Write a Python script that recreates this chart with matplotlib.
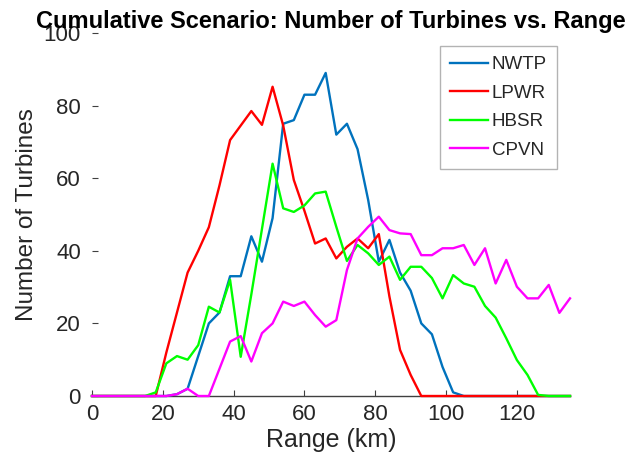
import numpy as np
import matplotlib
matplotlib.use("Agg")
from matplotlib import pyplot as plt

plt.rcParams['font.family'] = ['Liberation Sans', 'DejaVu Sans']

# range in km, one sample every 3 km
range_km = np.arange(0, 136, 3)

nwtp = [0, 0, 0, 0, 0, 0, 0, 0, 0.5, 2, 11, 20, 23, 33, 33, 44, 37, 49, 75, 76,
        83, 83, 89, 72, 75, 68, 54, 37, 43, 34, 29, 20, 17, 8, 1, 0, 0, 0, 0, 0,
        0, 0, 0, 0, 0, 0]
lpwr = [0, 0, 0, 0, 0, 0, 0, 12, 23, 34, 40, 46.5, 58, 70.5, 74.5, 78.5, 74.7, 85.2, 74.5, 59.5,
        51, 42, 43.4, 37.9, 41.1, 43.4, 40.7, 44.6, 27.4, 12.7, 5.8, 0, 0, 0, 0, 0, 0, 0, 0, 0,
        0, 0, 0, 0, 0, 0]
hbsr = [0, 0, 0, 0, 0, 0, 1, 9, 11, 10, 14, 24.6, 23, 32, 10.8, 28, 46, 64, 51.7, 50.7,
        52.5, 55.8, 56.3, 46.6, 37.2, 41.6, 39.3, 36.1, 38.4, 32, 35.6, 35.6, 32.5, 26.9, 33.3, 31, 30.1, 24.8, 21.6, 15.9,
        9.9, 5.8, 0.3, 0, 0, 0]
cpvn = [0, 0, 0, 0, 0, 0, 0, 0, 0.5, 2, 0, 0, 7.5, 15, 16.5, 9.5, 17.3, 20, 26, 24.8,
        26, 22.3, 19.1, 20.9, 34.7, 43.4, 46.6, 49.4, 45.7, 44.8, 44.6, 38.8, 38.8, 40.7, 40.7, 41.6, 36.1, 40.7, 31, 37.5,
        30.1, 26.9, 26.9, 30.6, 22.9, 26.9]

names = ['NWTP', 'LPWR', 'HBSR', 'CPVN']
colors = ['#0072BD', '#FF0000', '#00FF00', '#FF00FF']

fig = plt.figure(figsize=(6.32, 4.70), dpi=100)
ax = fig.add_axes([92/632, 1-396/470, (570-92)/632, (396-33)/470])

for vals, name, c in zip([nwtp, lpwr, hbsr, cpvn], names, colors):
    ax.plot(range_km, vals, color=c, lw=1.7, label=name, zorder=3, clip_on=False)

ax.set_xlim(0, 135)
ax.set_ylim(0, 100)
ax.set_xticks(range(0, 121, 20))
ax.set_yticks(range(0, 101, 20))

for s in ['top', 'right', 'left']:
    ax.spines[s].set_visible(False)
ax.spines['bottom'].set_color('#404040')
ax.spines['bottom'].set_linewidth(1.0)

ax.tick_params(direction='in', length=4, width=0.8, colors='#404040',
               labelsize=16, labelcolor='#262626', pad=6)
ax.tick_params(axis='y', pad=8)

ax.set_xlabel('Range (km)', fontsize=18, color='#262626', labelpad=2)
ax.set_ylabel('Number of Turbines', fontsize=17.5, color='#262626', labelpad=4)
ax.set_title('Cumulative Scenario: Number of Turbines vs. Range', fontsize=17,
             fontweight='bold', pad=3)

leg = ax.legend(loc='upper left', bbox_to_anchor=(440/632, 1-46/470),
                bbox_transform=fig.transFigure, borderaxespad=0,
                fontsize=13.5, handlelength=2.0, handletextpad=0.2,
                labelspacing=0.6, borderpad=0.55, fancybox=False)
leg.get_frame().set_edgecolor('#a0a0a0')
leg.get_frame().set_linewidth(1.0)
for t in leg.get_texts():
    t.set_color('#262626')

fig.savefig('out.png', dpi=100)
